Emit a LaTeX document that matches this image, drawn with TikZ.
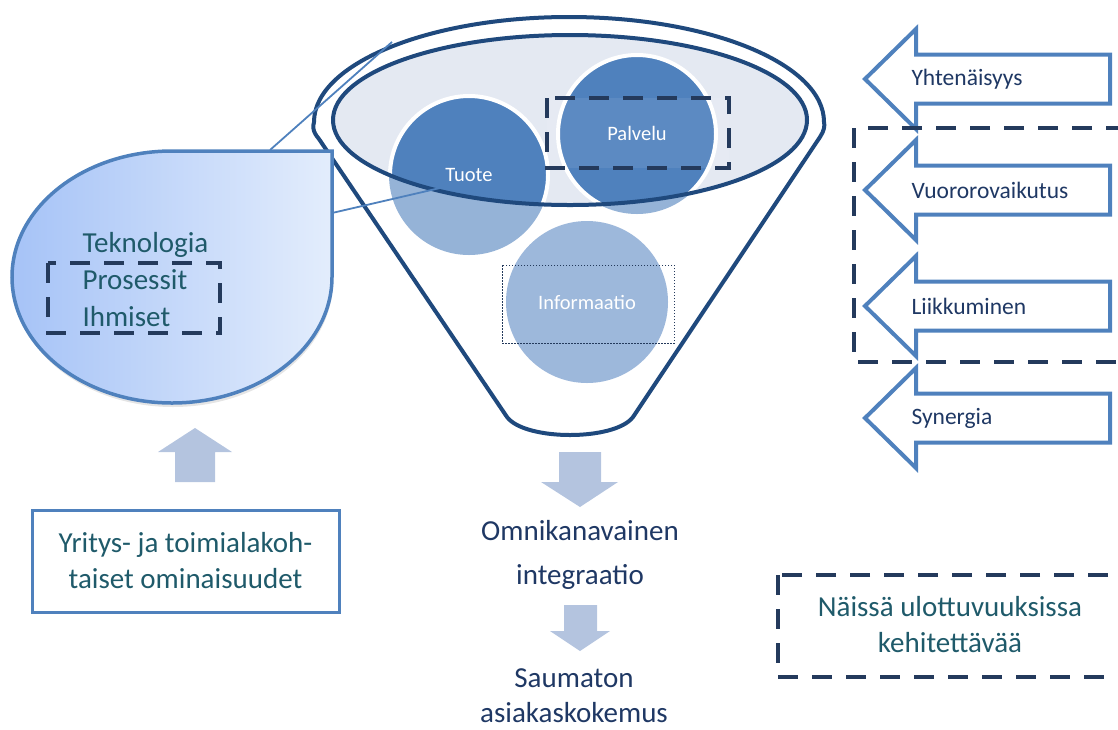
\documentclass[tikz,border=0pt]{standalone}
\usepackage{fontspec}
\setmainfont{Carlito}
\definecolor{funnelblue}{RGB}{31,73,125}
\definecolor{dashnavy}{RGB}{36,58,92}
\definecolor{darkcirc}{RGB}{79,129,189}
\definecolor{lightcirc}{RGB}{149,179,215}
\definecolor{infocirc}{RGB}{157,184,219}
\definecolor{rimfill}{RGB}{228,233,242}
\definecolor{accentblue}{RGB}{79,129,189}
\definecolor{paleblock}{RGB}{180,196,223}
\definecolor{tealtext}{RGB}{31,90,106}
\definecolor{navytext}{RGB}{31,56,100}
\definecolor{dropleft}{RGB}{166,195,247}
\definecolor{dropright}{RGB}{227,237,252}
\tikzset{
  dashbox/.style={draw=dashnavy, line width=4.5, dash pattern=on 20 off 14},
  blockarrow/.style={fill=paleblock},
  sidearrow/.style={draw=accentblue, fill=white, line width=4, line join=miter},
  circtext/.style={text=white, font=\fontsize{20.5}{24}\selectfont},
  sidetext/.style={anchor=west, text=navytext, font=\fontsize{23.5}{28}\selectfont},
  bigtext/.style={align=center, font=\fontsize{29}{36}\selectfont}
}
\begin{document}
\begin{tikzpicture}[x=1pt, y=1pt]
  \useasboundingbox (0,0) rectangle (1118,-729);
  % funnel body and rim
  \filldraw[fill=white, draw=funnelblue, line width=4, line join=round]
    (507,-417) -- (319,-139) .. controls (312,-131) and (313,-126) .. (314,-122)
    arc[start angle=180, end angle=0, x radius=255, y radius=105]
    .. controls (825,-126) and (824,-131) .. (820,-137)
    -- (633,-417) .. controls (615,-441) and (525,-441) .. (507,-417) -- cycle;
  \fill[rimfill] (570,-120) ellipse [x radius=237, y radius=85];
  % circles, darker where they lie inside the rim
  \fill[lightcirc] (469,-175) circle (80);
  \fill[lightcirc] (637,-134) circle (80);
  \fill[infocirc] (587,-302) circle (81);
  \begin{scope}\clip (570,-120) ellipse [x radius=237, y radius=85];
    \filldraw[fill=darkcirc, draw=white, line width=4] (469,-175) circle (79);
    \filldraw[fill=darkcirc, draw=white, line width=4] (637,-134) circle (79);
  \end{scope}
  \draw[funnelblue, line width=4] (570,-120) ellipse [x radius=237, y radius=85];
  \fill[white, opacity=0.08] (547,-98) rectangle (729,-168);
  \draw[dashbox] (547,-98) rectangle (729,-168);
  \draw[dashnavy, line width=0.8, dash pattern=on 1.5 off 1.5] (502,-265) rectangle (674,-343);
  \node[circtext] (tuote) at (469,-175) {Tuote};
  \node[circtext] (palvelu) at (637,-133) {Palvelu};
  \node[circtext] (info) at (587,-302) {Informaatio};
  % callout lines
  \coordinate (rimleft) at (392,-42);
  \coordinate (tuotefoot) at (440,-188);
  \coordinate (calltop) at (270,-150);
  \coordinate (callside) at (332,-213);
  \draw[accentblue, line width=1.8] (calltop) -- (rimleft);
  \draw[accentblue, line width=1.8] (callside) -- (tuotefoot);
  % callout drop
  \fill[black, opacity=0.1] (333,-155) -- (173,-155) arc[start angle=90, end angle=360, x radius=160, y radius=126] -- cycle;
  \shade[left color=dropleft, right color=dropright] (332,-151) -- (172,-151)
    arc[start angle=90, end angle=360, x radius=160, y radius=126] -- cycle;
  \draw[accentblue, line width=3.5, line join=miter] (332,-151) -- (172,-151)
    arc[start angle=90, end angle=360, x radius=160, y radius=126] -- cycle;
  \node[anchor=west, align=left, text=tealtext, font=\fontsize{29}{37}\selectfont] (tech) at (79,-280)
    {Teknologia\\Prosessit\\Ihmiset};
  \draw[dashbox] (48,-263) rectangle (220,-333);
  % firm specific box with arrow up
  \node[draw=accentblue, line width=3, minimum width=307, minimum height=102, bigtext,
    text=tealtext] (firm) at (185.5,-561) {Yritys- ja toimialakoh-\\taiset ominaisuudet};
  \fill[blockarrow] (175,-482) -- (175,-452) -- (158,-452) -- (195,-428)
    -- (232,-452) -- (215,-452) -- (215,-482) -- cycle;
  % outputs of the funnel
  \fill[blockarrow] (559,-452) -- (601,-452) -- (601,-482) -- (618,-482)
    -- (580,-507) -- (541,-482) -- (559,-482) -- cycle;
  \node[bigtext, text=navytext, font=\fontsize{29}{44}\selectfont] (omni) at (580,-555)
    {Omnikanavainen\\integraatio};
  \fill[blockarrow] (564,-605) -- (597,-605) -- (597,-631) -- (610,-631)
    -- (580,-651) -- (550,-631) -- (564,-631) -- cycle;
  \node[bigtext, text=navytext, font=\fontsize{29}{35}\selectfont] (seam) at (574,-696)
    {Saumaton\\asiakaskokemus};
  % dimensions
  \foreach \yy/\txt/\nm in {79/Yhtenäisyys/yht, 190/Vuororovaikutus/vuoro,
      306/Liikkuminen/liik, 418/Synergia/syn} {
    \draw[sidearrow] (1110,-\yy+24.5) -- (916,-\yy+24.5) -- (916,-\yy+50) -- (865,-\yy)
      -- (916,-\yy-50) -- (916,-\yy-24.5) -- (1110,-\yy-24.5) -- cycle;
    \node[sidetext] (\nm) at (908,-\yy) {\txt};
  }
  \draw[dashbox] (854,-128) rectangle (1130,-362);
  \draw[dashbox] (778,-575) rectangle (1130,-677);
  \node[bigtext, text=tealtext] (dev) at (950,-625) {Näissä ulottuvuuksissa\\kehitettävää};
\end{tikzpicture}
\end{document}
